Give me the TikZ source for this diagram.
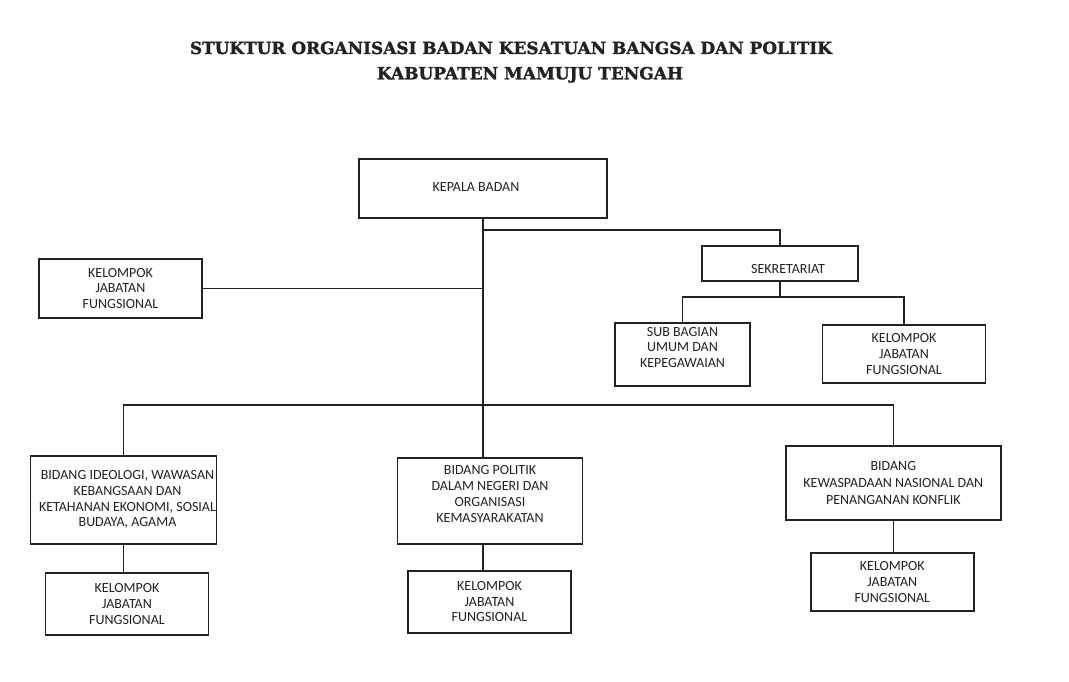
\documentclass[tikz,border=0pt]{standalone}
\usepackage{fontspec}
\setmainfont{Carlito}
\newfontfamily\titlefont{DejaVu Serif}[FakeBold=1.6]
\usepackage{graphicx}
\definecolor{ink}{HTML}{222222}
\begin{document}
\begin{tikzpicture}[x=1pt,y=-1pt,
  box/.style={draw=ink, line width=1.6pt, fill=white, align=center, inner sep=0pt,
    text=ink, font=\fontsize{14}{15.8}\selectfont},
  txt/.style={align=center, inner sep=0pt, text=ink, font=\fontsize{14}{15.8}\selectfont},
  link/.style={draw=ink, line width=1.6pt},
  ttl/.style={anchor=base, inner sep=0pt, text=ink}]
\useasboundingbox[fill=white] (0,0) rectangle (1069,682);

% title
\node[ttl] (t1) at (511,54) {\resizebox{642pt}{12.4pt}{\titlefont\bfseries STUKTUR ORGANISASI BADAN KESATUAN BANGSA DAN POLITIK}};
\node[ttl] (t2) at (530,79.3) {\resizebox{306pt}{12.4pt}{\titlefont\bfseries KABUPATEN MAMUJU TENGAH}};

% boxes
\node[box, minimum width=248pt, minimum height=59pt] (kepala) at (483,188.5) {};
\node[txt] (kepalaT) at (476,187) {KEPALA BADAN};
\node[box, minimum width=163pt, minimum height=59pt] (kjf0) at (120.5,288.5) {KELOMPOK\\JABATAN\\FUNGSIONAL};
\node[box, minimum width=156pt, minimum height=35pt] (sek) at (780,263.5) {};
\node[txt] (sekT) at (788,269) {SEKRETARIAT};
\node[box, minimum width=135pt, minimum height=63pt] (sub) at (682.5,354.5) {};
\node[txt] (subT) at (682.5,347.5) {SUB BAGIAN\\UMUM DAN\\KEPEGAWAIAN};
\node[box, minimum width=163pt, minimum height=58pt] (kjfs) at (904,354) {KELOMPOK\\JABATAN\\FUNGSIONAL};

\node[box, minimum width=186pt, minimum height=88pt] (bid1) at (123.5,500) {};
\node[txt] (bid1T) at (127.5,499.5) {BIDANG IDEOLOGI, WAWASAN\\KEBANGSAAN DAN\\KETAHANAN EKONOMI, SOSIAL\\BUDAYA, AGAMA};
\node[box, minimum width=163pt, minimum height=62pt] (kjf1) at (127,604) {KELOMPOK\\JABATAN\\FUNGSIONAL};

\node[box, minimum width=185pt, minimum height=86pt] (bid2) at (490,500.8) {};
\node[txt] (bid2T) at (490,494) {BIDANG POLITIK\\DALAM NEGERI DAN\\ORGANISASI\\KEMASYARAKATAN};
\node[box, minimum width=163pt, minimum height=62pt] (kjf2) at (489.5,601.7) {KELOMPOK\\JABATAN\\FUNGSIONAL};

\node[box, minimum width=215pt, minimum height=74pt, font=\fontsize{14}{17}\selectfont] (bid3) at (893.3,483) {BIDANG\\KEWASPADAAN NASIONAL DAN\\PENANGANAN KONFLIK};
\node[box, minimum width=163pt, minimum height=58pt] (kjf3) at (892.3,582) {KELOMPOK\\JABATAN\\FUNGSIONAL};

% junction coordinates
\coordinate (j1) at (483,230);
\coordinate (j2) at (780,296.7);
\coordinate (j3) at (483,405);

% connectors
\draw[link] (kepala.south) -- (kepala.south |- bid2.north);
\draw[link] (j1) -| (sek.north);
\draw[link] (kjf0.east) -- (kepala.south |- kjf0.east);
\draw[link] (sek.south) -- (j2);
\draw[link] (sub.north) |- (j2) -| (kjfs.north);
\draw[link] (bid1.north) |- (j3) -| (bid3.north);
\draw[link] (bid1.south) -- (bid1.south |- kjf1.north);
\draw[link] (kepala.south |- bid2.south) -- (kepala.south |- kjf2.north);
\draw[link] (bid3.south) -- (bid3.south |- kjf3.north);
\end{tikzpicture}
\end{document}
